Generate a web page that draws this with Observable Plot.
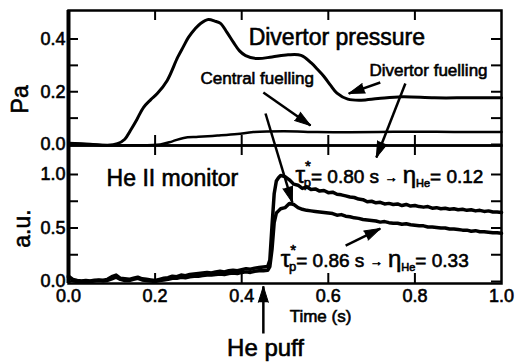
<!DOCTYPE html>
<html><head><meta charset="utf-8">
<script src="https://cdn.jsdelivr.net/npm/d3@7"></script>
<script src="https://cdn.jsdelivr.net/npm/@observablehq/plot@0.6"></script>
<style>
body{margin:0;background:#fff;}
#chart{position:relative;width:516px;height:364px;background:#fff;overflow:hidden;}
#chart svg{position:absolute;left:0;}
#chart svg text{stroke:#000;stroke-width:0.6px;}
</style></head><body><div id="chart"></div>
<script>
// ---------- data ----------
const pressTime = [0, 0.05, 0.09, 0.113, 0.13, 0.143, 0.158, 0.173, 0.19, 0.205, 0.228, 0.252, 0.265, 0.277, 0.292, 0.305, 0.323, 0.338, 0.351, 0.366, 0.381, 0.395, 0.409, 0.436, 0.47, 0.507, 0.537, 0.56, 0.575, 0.59, 0.605, 0.62, 0.645, 0.676, 0.715, 0.77, 0.845, 0.923, 1.0];
const divertorPressure = [0.005, 0.001, -0.003, 0.003, 0.02, 0.053, 0.095, 0.14, 0.17, 0.193, 0.243, 0.33, 0.37, 0.406, 0.438, 0.459, 0.474, 0.468, 0.459, 0.425, 0.387, 0.355, 0.337, 0.326, 0.332, 0.34, 0.338, 0.31, 0.285, 0.258, 0.225, 0.195, 0.172, 0.168, 0.174, 0.181, 0.177, 0.177, 0.177];
const centralTime = [0, 0.05, 0.1, 0.15, 0.212, 0.24, 0.266, 0.3, 0.344, 0.39, 0.427, 0.497, 0.575, 0.65, 0.75, 0.85, 0.92, 1.0];
const centralPressure = [0.005, 0.0, -0.003, -0.003, 0.0, 0.012, 0.025, 0.029, 0.034, 0.04, 0.047, 0.05, 0.047, 0.046, 0.048, 0.048, 0.047, 0.047];

const heTime = [0.00,0.01,0.02,0.03,0.04,0.05,0.06,0.07,0.08,0.09,0.10,0.11,0.12,0.13,0.14,0.15,0.16,0.17,0.18,0.19,0.20,0.21,0.22,0.23,0.24,0.25,0.26,0.27,0.28,0.29,0.30,0.31,0.32,0.33,0.34,0.35,0.36,0.37,0.38,0.39,0.40,0.41,0.42,0.43,0.44,0.45,0.46,
  0.465,0.47,0.475,0.48,0.485,
  0.49,0.50,0.51,0.52,0.53,0.54,0.55,0.56,0.57,0.58,0.59,0.60,0.61,0.62,0.63,0.64,0.65,0.66,0.67,0.68,0.69,0.70,0.71,0.72,0.73,0.74,0.75,0.76,0.77,0.78,0.79,0.80,0.81,0.82,0.83,0.84,0.85,0.86,0.87,0.88,0.89,0.90,0.91,0.92,0.93,0.94,0.95,0.96,0.97,0.98,0.99,1.00];
// divertor fuelling (upper trace, tau*p = 0.80 s)
const heDivertor = [0.05,0.02,0.01,0.005,0.01,0.005,0.012,0.015,0.012,0.02,0.045,0.06,0.03,0.025,0.02,0.03,0.04,0.025,0.02,0.015,0.01,0.02,0.03,0.035,0.05,0.045,0.06,0.055,0.065,0.07,0.075,0.08,0.085,0.08,0.09,0.095,0.09,0.1,0.105,0.1,0.11,0.12,0.115,0.125,0.13,0.135,0.14,
  0.2,0.52,0.82,0.94,0.97,
  0.99,0.98,0.95,0.91,0.90,0.87,0.885,0.86,0.865,0.845,0.85,0.83,0.835,0.815,0.81,0.80,0.79,0.785,0.77,0.765,0.745,0.75,0.735,0.74,0.725,0.73,0.72,0.725,0.71,0.72,0.705,0.71,0.70,0.695,0.70,0.685,0.69,0.68,0.685,0.675,0.68,0.67,0.675,0.665,0.67,0.66,0.665,0.655,0.66,0.65,0.65,0.645];
// central fuelling (lower trace, tau*p = 0.86 s)
const heCentral = [0.04,0.01,0.0,0.0,0.005,0.0,0.005,0.01,0.005,0.01,0.025,0.04,0.02,0.01,0.01,0.02,0.03,0.015,0.01,0.005,0.0,0.01,0.015,0.02,0.03,0.03,0.04,0.035,0.045,0.05,0.05,0.055,0.06,0.06,0.065,0.07,0.065,0.075,0.08,0.075,0.085,0.09,0.085,0.095,0.1,0.1,0.105,
  0.14,0.3,0.55,0.64,0.66,
  0.68,0.69,0.73,0.72,0.69,0.675,0.665,0.66,0.655,0.65,0.645,0.64,0.635,0.62,0.625,0.61,0.605,0.595,0.59,0.58,0.575,0.57,0.565,0.555,0.56,0.55,0.545,0.545,0.535,0.54,0.53,0.525,0.52,0.52,0.51,0.51,0.505,0.5,0.5,0.49,0.49,0.485,0.48,0.48,0.47,0.475,0.465,0.465,0.46,0.455,0.455,0.45];

const xTicks = [0, 0.2, 0.4, 0.6, 0.8, 1.0];
const xInnerTicks = [0.2, 0.4, 0.6, 0.8];
const paTicks = [0, 0.2, 0.4];
const paMinorTicks = [0.1, 0.3];
const auTicks = [0, 0.5, 1.0];
const auMinorTicks = [0.25, 0.75];

// annotations (data units: x in s, y in Pa / a.u.)
const topLabels = [
  {x: 0.416, y: 0.379, text: "Divertor pressure", size: 23},
  {x: 0.305, y: 0.231, text: "Central fuelling", size: 17},
  {x: 0.695, y: 0.258, text: "Divertor fuelling", size: 17}
];
const bottomLabels = [
  {x: 0.088, y: 0.897, text: "He II monitor", size: 23},
  {x: 0.524, y: 0.916, text: "τ*p= 0.80 s → ηHe= 0.12", size: 19},
  {x: 0.49, y: 0.131, text: "τ*p= 0.86 s → ηHe= 0.33", size: 19}
];
const topArrows = [
  {x1: 0.72, y1: 0.235, x2: 0.647, y2: 0.193},
  {x1: 0.45, y1: 0.197, x2: 0.559, y2: 0.072}
];
const bottomArrows = [
  {x1: 0.778, y1: 1.85, x2: 0.711, y2: 1.159},
  {x1: 0.455, y1: 1.57, x2: 0.517, y2: 0.738},
  {x1: 0.64, y1: 0.336, x2: 0.72, y2: 0.495},
  {x1: 0.45, y1: -0.486, x2: 0.45, y2: -0.045}
];

// ---------- layout ----------
const W = 516, mL = 68, mR = 15;
const xDomain = [0, 1];
const topH = 146, topMT = 10, topMB = 1;
const paDomain = [-0.0038, 0.508];
const botTop = 145, botH = 219, botMT = 0, botMB = 81;
const auDomain = [-0.0187, 1.271];
const frameW = W - mL - mR;
const topFH = topH - topMT - topMB;
const botFH = botH - botMT - botMB;
const tick = 10;
const font = "'Liberation Sans', Arial, Helvetica, sans-serif";

const xS = Plot.scale({x: {domain: xDomain, range: [mL, W - mR]}});
const yTopS = Plot.scale({y: {domain: paDomain, range: [topH - topMB, topMT]}});
const yBotS = Plot.scale({y: {domain: auDomain, range: [botH - botMB, botMT]}});
const angle = (d, yS) => Math.atan2(xS.apply(d.x2) - xS.apply(d.x1), -(yS.apply(d.y2) - yS.apply(d.y1))) * 180 / Math.PI;

const common = {
  width: W, marginLeft: mL, marginRight: mR,
  x: {domain: xDomain, axis: null},
  style: {fontFamily: font, fontSize: "18px", color: "#000", background: "transparent", overflow: "visible"}
};

function arrowMarks(arrows, yS) {
  return [
    Plot.link(arrows, {x1: "x1", y1: "y1", x2: "x2", y2: "y2", stroke: "black", strokeWidth: 2.5}),
    Plot.vector(arrows, {x: "x2", y: "y2", rotate: d => angle(d, yS), length: 16, r: 5, shape: "spike", anchor: "end", fill: "black", stroke: "black", strokeWidth: 1})
  ];
}
function frameMarks(yTicks, fh) {
  return [
    Plot.frame({strokeWidth: 2.5}),
    Plot.ruleX([xDomain[0]], {strokeWidth: 4}),
    Plot.ruleY(yTicks, {strokeWidth: 2, insetRight: frameW - tick}),
    Plot.ruleY(yTicks, {strokeWidth: 2, insetLeft: frameW - tick}),
    Plot.ruleX(xInnerTicks, {strokeWidth: 2, insetBottom: fh - tick}),
    Plot.ruleX(xInnerTicks, {strokeWidth: 2, insetTop: fh - tick})
  ];
}

const topPlot = Plot.plot({
  ...common,
  height: topH, marginTop: topMT, marginBottom: topMB,
  y: {domain: paDomain, axis: null},
  marks: [
    ...frameMarks([...paTicks, ...paMinorTicks], topFH),
    Plot.axisY(paTicks, {tickSize: 0, tickPadding: 3, tickFormat: d3.format(".1f"), label: null}),
    Plot.line(divertorPressure, {x: pressTime, y: divertorPressure, stroke: "black", strokeWidth: 3, curve: "catmull-rom"}),
    Plot.line(centralPressure, {x: centralTime, y: centralPressure, stroke: "black", strokeWidth: 2.5, curve: "catmull-rom"}),
    ...topLabels.map(l => Plot.text([l], {x: "x", y: "y", text: "text", fontSize: l.size, textAnchor: "start", lineAnchor: "bottom"})),
    Plot.text(["Pa"], {x: -0.111, y: 0.171, text: d => d, rotate: -90, fontSize: 23, textAnchor: "middle", lineAnchor: "middle"}),
    ...arrowMarks(topArrows, yTopS)
  ]
});

const bottomPlot = Plot.plot({
  ...common,
  height: botH, marginTop: botMT, marginBottom: botMB,
  y: {domain: auDomain, axis: null},
  marks: [
    ...frameMarks([...auTicks, ...auMinorTicks], botFH),
    Plot.axisY(auTicks, {tickSize: 0, tickPadding: 3, tickFormat: d3.format(".1f"), label: null}),
    Plot.axisX(xTicks, {tickSize: 0, tickPadding: 6, tickFormat: d3.format(".1f"), label: null}),
    Plot.line(heCentral, {x: heTime, y: heCentral, stroke: "black", strokeWidth: 3.5, strokeLinejoin: "round"}),
    Plot.line(heDivertor, {x: heTime, y: heDivertor, stroke: "black", strokeWidth: 3.5, strokeLinejoin: "round"}),
    ...bottomLabels.map(l => Plot.text([l], {x: "x", y: "y", text: "text", fontSize: l.size, textAnchor: "start", lineAnchor: "bottom"})),
    Plot.text(["a.u."], {x: -0.106, y: 0.495, text: d => d, rotate: -90, fontSize: 23, textAnchor: "middle", lineAnchor: "middle"}),
    Plot.text(["Time (s)"], {x: 0.582, y: -0.383, text: d => d, fontSize: 17, textAnchor: "middle", lineAnchor: "bottom"}),
    Plot.text(["He puff"], {x: 0.455, y: -0.70, text: d => d, fontSize: 24, textAnchor: "middle", lineAnchor: "bottom"}),
    ...arrowMarks(bottomArrows, yBotS)
  ]
});

// rich text for the tau / eta labels (sub- and superscripts)
d3.select(bottomPlot).selectAll("text").filter(function () { return this.textContent.startsWith("τ"); }).each(function () {
  const m = this.textContent.match(/^τ\*p(= .* s) → ηHe(= .*)$/);
  if (!m) return;
  const parts = [
    {s: "τ", size: 24, base: 0},
    {s: "*", size: 15, base: -12},
    {s: "p", size: 13, base: 4, dx: -7},
    {s: m[1] + " ", size: 19, base: 0},
    {s: "→", size: 13, base: -1},
    {s: " ", size: 19, base: 0},
    {s: "η", size: 24, base: 0},
    {s: "He", size: 11, base: 4},
    {s: m[2], size: 19, base: 0}
  ];
  const t = d3.select(this);
  t.text(null);
  let cur = 0;
  for (const p of parts) {
    const ts = t.append("tspan").attr("font-size", p.size).attr("dy", p.base - cur).text(p.s);
    if (p.dx) ts.attr("dx", p.dx);
    cur = p.base;
  }
});

const chart = document.getElementById("chart");
topPlot.style.top = "0px";
bottomPlot.style.top = botTop + "px";
chart.appendChild(topPlot);
chart.appendChild(bottomPlot);
</script></body></html>
